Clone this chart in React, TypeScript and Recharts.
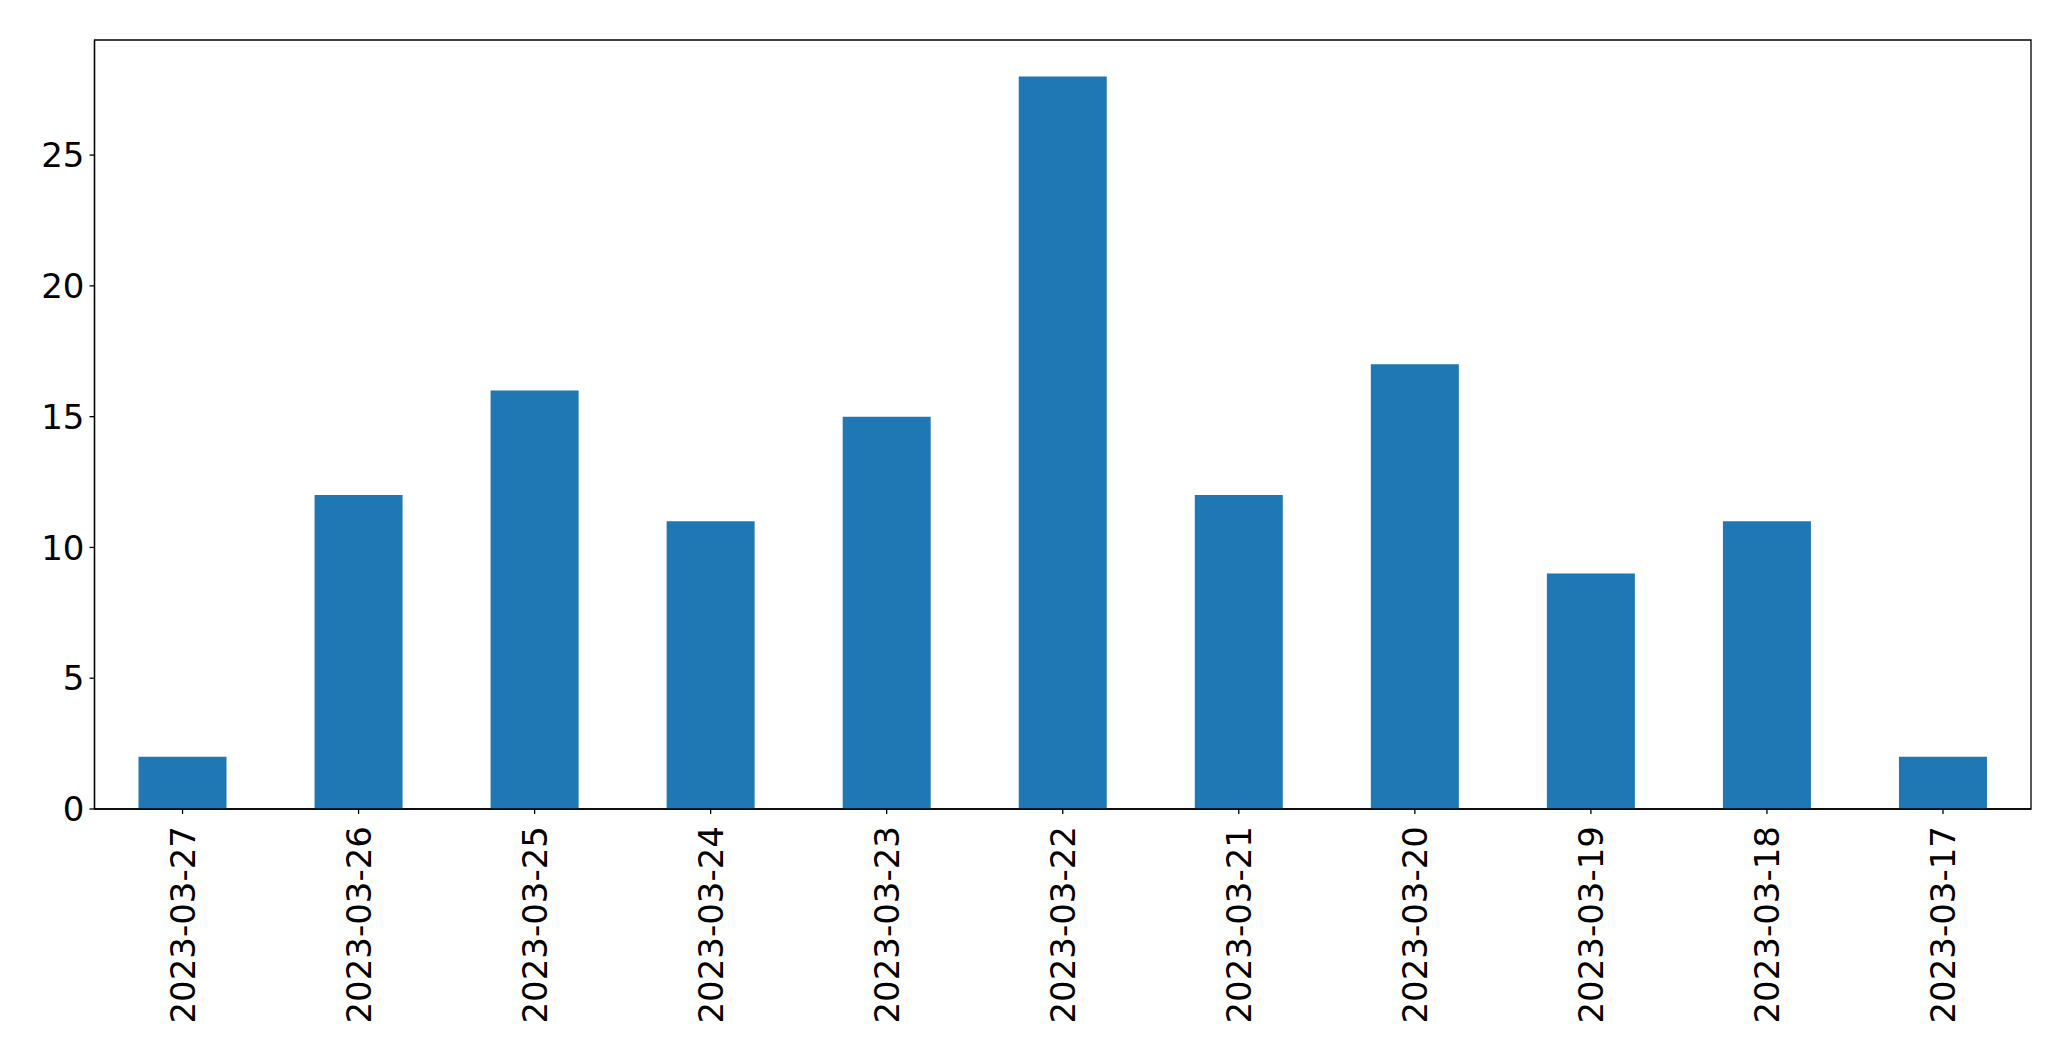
import { Bar, BarChart, ReferenceArea, XAxis, YAxis } from "recharts";

const dates = [
  "2023-03-27",
  "2023-03-26",
  "2023-03-25",
  "2023-03-24",
  "2023-03-23",
  "2023-03-22",
  "2023-03-21",
  "2023-03-20",
  "2023-03-19",
  "2023-03-18",
  "2023-03-17",
];
const counts = [2, 12, 16, 11, 15, 28, 12, 17, 9, 11, 2];
const yTicks = [0, 5, 10, 15, 20, 25];
const yMax = 29.4;

const FONT = "DejaVu Sans";
const FONT_SIZE = 34;

function DateTick({ x, y, payload }: any) {
  return (
    <g transform={`translate(${x},${y})`}>
      <text
        transform="rotate(-90)"
        x={-10}
        y={0}
        dy="0.36em"
        textAnchor="end"
        fontFamily={FONT}
        fontSize={FONT_SIZE}
        fill="#000"
      >
        {payload.value}
      </text>
    </g>
  );
}

export default function App() {
  const data = dates.map((date, i) => ({ date, count: counts[i] }));
  const axisStyle = { stroke: "#000", strokeWidth: 1.3 };

  return (
    <div style={{ position: "absolute", left: 0, top: 0, width: 2071, height: 1061, background: "#fff" }}>
      <BarChart
        width={2071}
        height={1061}
        data={data}
        margin={{ top: 40, right: 40, bottom: 0, left: 0 }}
        barCategoryGap="25%"
      >
        <XAxis
          dataKey="date"
          height={252}
          interval={0}
          tick={<DateTick />}
          tickSize={5}
          tickMargin={2}
          axisLine={axisStyle}
          tickLine={axisStyle}
        />
        <YAxis
          width={94.5}
          domain={[0, yMax]}
          ticks={yTicks}
          tickSize={5}
          tickMargin={5}
          axisLine={axisStyle}
          tickLine={axisStyle}
          tick={{ fontFamily: FONT, fontSize: FONT_SIZE, fill: "#000" }}
        />
        <Bar dataKey="count" fill="#1f77b4" isAnimationActive={false} />
        <ReferenceArea
          y1={0}
          y2={yMax}
          fill="none"
          fillOpacity={0}
          stroke="#000"
          strokeWidth={1.3}
          ifOverflow="visible"
        />
      </BarChart>
    </div>
  );
}
